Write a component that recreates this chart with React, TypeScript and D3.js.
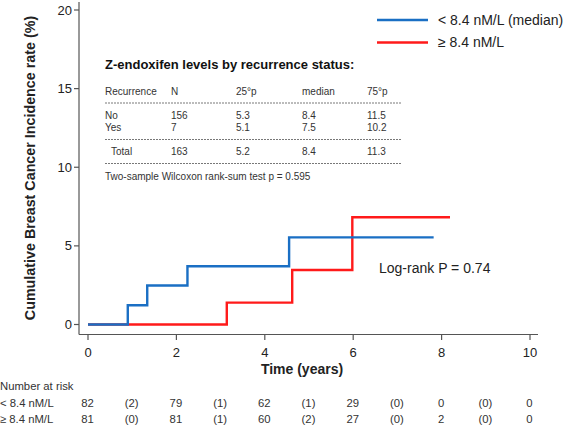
import React from "react";
import * as d3 from "d3";

const blueTimes = [0, 0.9, 1.34, 2.25, 4.55, 7.82];
const blueValues = [0, 1.22, 2.48, 3.7, 5.54, 5.54];
const redTimes = [0, 3.14, 4.62, 5.98, 8.19];
const redValues = [0, 1.39, 3.47, 6.82, 6.82];

const xTicks = [0, 2, 4, 6, 8, 10];
const yTicks = [0, 5, 10, 15, 20];

const seriesLabels = ["< 8.4 nM/L (median)", "\u2265 8.4 nM/L"];
const riskLabels = ["< 8.4 nM/L", "\u2265 8.4 nM/L"];
const riskBlue = ["82", "(2)", "79", "(1)", "62", "(1)", "29", "(0)", "0", "(0)", "0"];
const riskRed = ["81", "(0)", "81", "(1)", "60", "(2)", "27", "(0)", "2", "(0)", "0"];

const tableHeader = ["Recurrence", "N", "25\u00b0p", "median", "75\u00b0p"];
const tableRows = [
  ["No", "156", "5.3", "8.4", "11.5"],
  ["Yes", "7", "5.1", "7.5", "10.2"],
];
const tableTotal = ["Total", "163", "5.2", "8.4", "11.3"];

const BLUE = "#1a6fc4";
const RED = "#ff1a1a";
const AXIS = "#555";
const FONT = "'Liberation Sans', Arial, sans-serif";

export default function App() {
  const x = d3.scaleLinear().domain([0, 10]).range([88, 530]);
  const y = d3.scaleLinear().domain([0, 20]).range([324.5, 10]);
  const line = d3
    .line<[number, number]>()
    .x((d) => x(d[0]))
    .y((d) => y(d[1]))
    .curve(d3.curveStepAfter);
  const blue = blueTimes.map((t, i) => [t, blueValues[i]] as [number, number]);
  const red = redTimes.map((t, i) => [t, redValues[i]] as [number, number]);

  const colX = [105, 171, 236, 302, 367];
  const totalX = [111, 171, 236, 302, 367];
  const riskPos = riskBlue.map((_, i) => x(i) - 0.5);
  const riskY = [403, 419];

  return (
    <svg
      width={566}
      height={425}
      style={{ position: "absolute", left: 0, top: 0, background: "#fff" }}
      fontFamily={FONT}
    >
      {/* axes */}
      <line x1={79} x2={79} y1={2} y2={334.5} stroke={AXIS} strokeWidth={1.2} />
      <line x1={79} x2={538} y1={334.5} y2={334.5} stroke={AXIS} strokeWidth={1.2} />
      {yTicks.map((t) => (
        <g key={"y" + t}>
          <line x1={74} x2={79} y1={y(t)} y2={y(t)} stroke={AXIS} strokeWidth={1.2} />
          <text x={72} y={y(t)} dy="0.35em" textAnchor="end" fontSize={13} fill="#222">
            {t}
          </text>
        </g>
      ))}
      {xTicks.map((t) => (
        <g key={"x" + t}>
          <line x1={x(t)} x2={x(t)} y1={334.5} y2={340} stroke={AXIS} strokeWidth={1.2} />
          <text x={x(t)} y={352} dy="0.35em" textAnchor="middle" fontSize={13} fill="#222">
            {t}
          </text>
        </g>
      ))}
      <text
        transform="translate(30,168) rotate(-90)"
        textAnchor="middle"
        dy="0.35em"
        fontSize={14.3}
        fontWeight="bold"
        fill="#222"
      >
        Cumulative Breast Cancer Incidence rate (%)
      </text>
      <text x={302} y={369} dy="0.35em" textAnchor="middle" fontSize={14} fontWeight="bold" fill="#222">
        Time (years)
      </text>

      {/* curves */}
      <path d={line(red) || ""} fill="none" stroke={RED} strokeWidth={2.4} />
      <path d={line(blue) || ""} fill="none" stroke={BLUE} strokeWidth={2.4} />

      {/* legend */}
      <line x1={377} x2={428} y1={20} y2={20} stroke={BLUE} strokeWidth={2.4} />
      <line x1={377} x2={428} y1={42.5} y2={42.5} stroke={RED} strokeWidth={2.4} />
      <text x={438} y={20} dy="0.35em" fontSize={14} fill="#222">
        {seriesLabels[0]}
      </text>
      <text x={438} y={42.5} dy="0.35em" fontSize={14} fill="#222">
        {seriesLabels[1]}
      </text>

      <text x={379} y={268} dy="0.35em" fontSize={14} fill="#222">
        Log-rank P = 0.74
      </text>

      {/* table */}
      <text x={105} y={64} dy="0.35em" fontSize={13} fontWeight="bold" fill="#111">
        Z-endoxifen levels by recurrence status:
      </text>
      {tableHeader.map((h, i) => (
        <text key={"h" + i} x={colX[i]} y={91} dy="0.35em" fontSize={10} fill="#333">
          {h}
        </text>
      ))}
      <line x1={105} x2={402} y1={103} y2={103} stroke="#555" strokeWidth={0.8} strokeDasharray="2,1" />
      {tableRows.map((r, ri) =>
        r.map((c, i) => (
          <text key={"r" + ri + i} x={colX[i]} y={115 + ri * 12.3} dy="0.35em" fontSize={10} fill="#333">
            {c}
          </text>
        ))
      )}
      <line x1={105} x2={402} y1={139.5} y2={139.5} stroke="#555" strokeWidth={0.8} strokeDasharray="2,1" />
      {tableTotal.map((c, i) => (
        <text key={"t" + i} x={totalX[i]} y={151} dy="0.35em" fontSize={10} fill="#333">
          {c}
        </text>
      ))}
      <line x1={105} x2={402} y1={163.5} y2={163.5} stroke="#555" strokeWidth={0.8} strokeDasharray="2,1" />
      <text x={105} y={176} dy="0.35em" fontSize={10} fill="#333">
        Two-sample Wilcoxon rank-sum test p = 0.595
      </text>

      {/* number at risk */}
      <text x={0} y={386} dy="0.35em" fontSize={11.3} fill="#333">
        Number at risk
      </text>
      {riskLabels.map((l, i) => (
        <text key={"rl" + i} x={0} y={riskY[i]} dy="0.35em" fontSize={11.3} fill="#333">
          {l}
        </text>
      ))}
      {riskBlue.map((v, i) => (
        <text key={"rb" + i} x={riskPos[i]} y={riskY[0]} dy="0.35em" textAnchor="middle" fontSize={11.3} fill="#333">
          {v}
        </text>
      ))}
      {riskRed.map((v, i) => (
        <text key={"rr" + i} x={riskPos[i]} y={riskY[1]} dy="0.35em" textAnchor="middle" fontSize={11.3} fill="#333">
          {v}
        </text>
      ))}
    </svg>
  );
}
